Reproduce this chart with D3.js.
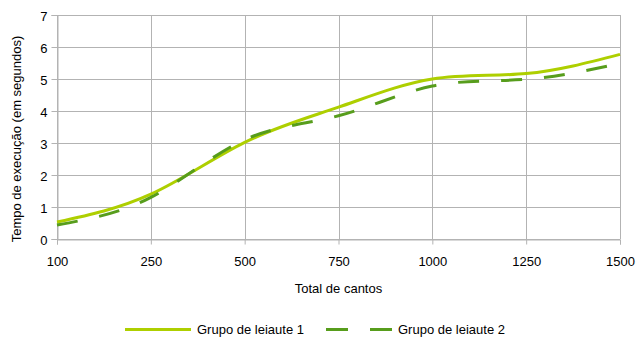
<!DOCTYPE html>
<html>
<head>
<meta charset="utf-8">
<script src="https://d3js.org/d3.v7.min.js"></script>
<style>
  body { margin: 0; background: #fff; }
  text { font-family: "Liberation Sans", Arial, sans-serif; fill: #000; }
</style>
</head>
<body>
<div class="chart"></div>
<script>
var w = 637;
var h = 340;

// category labels on x, values in seconds
var cantos = ["100", "250", "500", "750", "1000", "1250", "1500"];
var grupo1 = [0.53, 1.4, 3.02, 4.12, 5.0, 5.17, 5.77];
var grupo2 = [0.44, 1.3, 3.1, 3.85, 4.78, 4.99, 5.49];
var yTicks = [0, 1, 2, 3, 4, 5, 6, 7];

var series = [
    {name: "Grupo de leiaute 1", values: grupo1, color: "#aecf00", dash: null, legendDash: null},
    {name: "Grupo de leiaute 2", values: grupo2, color: "#579d1c", dash: "21,22", legendDash: "22,22"}
];

// plot box (note: "top" is taken by window.top)
var plotL = 57, plotR = 620, plotT = 15, plotB = 239;

var svg = d3.select(".chart")
            .append("svg")
            .attr("width", w)
            .attr("height", h);

var x = d3.scalePoint()
          .domain(cantos)
          .range([plotL, plotR]);

var y = d3.scaleLinear()
          .domain([0, 7])
          .range([plotB, plotT]);

// grid
svg.append("g")
   .selectAll("line")
   .data(yTicks)
   .enter()
   .append("line")
   .attr("x1", plotL).attr("x2", plotR)
   .attr("y1", function(d) { return Math.round(y(d)) + 0.5; })
   .attr("y2", function(d) { return Math.round(y(d)) + 0.5; })
   .attr("stroke", "#b3b3b3");

svg.append("g")
   .selectAll("line")
   .data(cantos)
   .enter()
   .append("line")
   .attr("x1", function(d) { return Math.round(x(d)) + 0.5; })
   .attr("x2", function(d) { return Math.round(x(d)) + 0.5; })
   .attr("y1", plotT).attr("y2", plotB)
   .attr("stroke", "#b3b3b3");

// axes
var xAxis = svg.append("g")
   .attr("transform", "translate(0," + (plotB + 0.5) + ")")
   .call(d3.axisBottom(x).tickSize(5).tickPadding(12));

var yAxis = svg.append("g")
   .attr("transform", "translate(" + (plotL + 0.5) + ",0)")
   .call(d3.axisLeft(y).tickValues(yTicks).tickFormat(d3.format("d")).tickSize(6).tickPadding(4));

[xAxis, yAxis].forEach(function(a) {
    a.selectAll("path").attr("stroke", "#b3b3b3");
    a.selectAll("line").attr("stroke", "#b3b3b3");
    a.selectAll("text")
     .style("font-family", '"Liberation Sans", Arial, sans-serif')
     .style("font-size", "13px")
     .attr("fill", "#000");
});
yAxis.selectAll("text").attr("dy", "0.45em");

// lines
var line = d3.line()
    .x(function(d, i) { return x(cantos[i]); })
    .y(function(d) { return y(d); })
    .curve(d3.curveNatural);

svg.selectAll("path.serie")
   .data(series)
   .enter()
   .append("path")
   .attr("class", "serie")
   .attr("d", function(d) { return line(d.values); })
   .attr("fill", "none")
   .attr("stroke", function(d) { return d.color; })
   .attr("stroke-width", 3)
   .attr("stroke-dasharray", function(d) { return d.dash; });

// titles
svg.append("text")
   .attr("x", (plotL + plotR) / 2)
   .attr("y", 293)
   .attr("text-anchor", "middle")
   .style("font-size", "13px")
   .text("Total de cantos");

svg.append("text")
   .attr("transform", "translate(21,139) rotate(-90)")
   .attr("text-anchor", "middle")
   .style("font-size", "13px")
   .text("Tempo de execução (em segundos)");

// legend
var legendX = [125, 326];
var leg = svg.selectAll("g.leg")
   .data(series)
   .enter()
   .append("g")
   .attr("class", "leg")
   .attr("transform", function(d, i) { return "translate(" + legendX[i] + ",329.5)"; });

leg.append("line")
   .attr("x1", 0).attr("x2", 66)
   .attr("stroke", function(d) { return d.color; })
   .attr("stroke-width", 3)
   .attr("stroke-dasharray", function(d) { return d.legendDash; });

leg.append("text")
   .attr("x", 72)
   .attr("y", 4.5)
   .style("font-size", "13px")
   .text(function(d) { return d.name; });
</script>
</body>
</html>
